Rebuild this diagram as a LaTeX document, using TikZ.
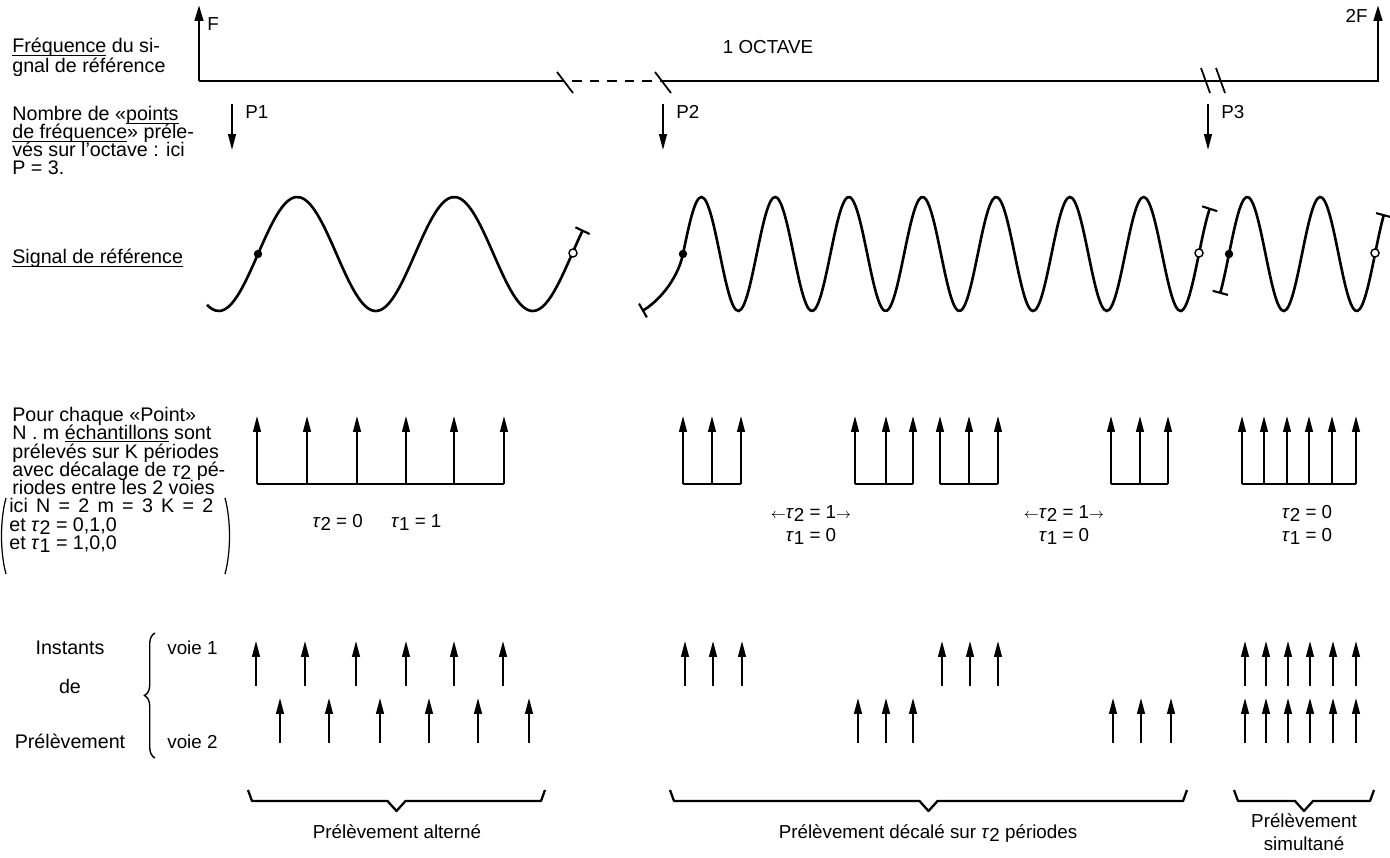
\documentclass[tikz,border=0pt]{standalone}
\usepackage{fontspec}
\setmainfont{Liberation Sans}
\usetikzlibrary{arrows.meta,decorations.pathreplacing,positioning}

\newcommand{\tauv}[1]{\textit{τ}\raisebox{-0.35ex}[\height][0pt]{#1}}
\newcommand{\undl}[1]{$\underline{\smash{\hbox{#1}}}$}
\newcommand{\smarr}[1]{{\footnotesize$#1$}}

\tikzset{
  axisline/.style={line width=1.5pt},
  brk/.style={line width=1pt},
  wave/.style={line width=1.5pt},
  endbar/.tip={Bar[width=9pt,line width=1.2pt]},
  combline/.style={line width=0.9pt},
  sample/.style={line width=1pt, -{Triangle[length=9pt,width=4.4pt]}},
  txt/.style={anchor=base west, inner sep=0pt},
  lefttxt/.style={txt, font=\fontsize{11.2}{12}\selectfont},
  ctxt/.style={anchor=base, inner sep=0pt},
  underbrace/.style={line width=1.3pt, line join=round},
}

\begin{document}
\begin{tikzpicture}[x=0.02cm, y=-0.02cm, font=\fontsize{10.7}{12.6}\selectfont]
  \useasboundingbox (0,0) rectangle (1390,858);

  % Frequency axis F -> 2F
  \coordinate (fA) at (199,81);
  \coordinate (fB) at (1378,81);
  \draw[axisline, -{Triangle[length=9pt,width=4.8pt]}] (fA) -- (199,5);
  \draw[axisline] (fA) -- (564,81);
  \draw[axisline, dash pattern=on 5.5pt off 4.5pt] (572,81) -- (660,81);
  \draw[axisline, -{Triangle[length=9pt,width=4.8pt]}] (662,81) -- (fB) -- (1378,5);
  \draw[brk] (557,72) -- (573,93);
  \draw[brk] (655,72) -- (671,93);
  \draw[brk] (1201,68) -- (1210,93);
  \draw[brk] (1216,68) -- (1225,93);
  \node[txt] (F) at (207,31) {F};
  \node[anchor=base east, inner sep=0pt] (F2) at (1368,23) {2F};
  \node[ctxt] (oct) at (768,54) {1 OCTAVE};

  % Frequency points P1, P2, P3
  \foreach \x/\n in {232/1, 663/2, 1208/3} {
    \draw[sample] (\x,104) -- (\x,150);
    \node[txt] (p\n) at (\x+13,119) {P\n};
  }

  % Left column texts
  \node[lefttxt] (fr1) at (12,53) {\undl{Fréquence} du si-};
  \node[lefttxt] (fr2) at (12,73) {gnal de référence};
  \node[lefttxt] (nb1) at (12,121) {Nombre de «\undl{points}};
  \node[lefttxt] (nb2) at (12,139) {\undl{de fréquence}» préle-};
  \node[lefttxt] (nb3) at (12,157) {vés sur l'octave : ici};
  \node[lefttxt] (nb4) at (12,175) {P = 3.};
  \node[lefttxt] (sig) at (12,264) {\undl{Signal de référence}};
  \node[lefttxt] (pc1) at (12,421) {Pour chaque «Point»};
  \node[lefttxt] (pc2) at (12,439) {N . m \undl{échantillons} sont};
  \node[lefttxt] (pc3) at (12,458) {prélevés sur K périodes};
  \node[lefttxt] (pc4) at (12,476) {avec décalage de \tauv{2} pé-};
  \node[lefttxt] (pc5) at (12,494) {riodes entre les 2 voies};
  \node[lefttxt] (pc6) at (9,512) {\makebox[4.08cm][s]{ici N = 2 m = 3 K = 2}};
  \node[lefttxt] (pc7) at (9,531) {et \tauv{2} = 0,1,0};
  \node[lefttxt] (pc8) at (9,549) {et \tauv{1} = 1,0,0};
  \draw[line width=0.7pt] (6,498) .. controls (0,520) and (0,552) .. (6,574);
  \draw[line width=0.7pt] (225,498) .. controls (231,520) and (231,552) .. (225,574);

  % Reference signals
  \draw[wave, -{endbar}] plot[domain=207:583, samples=90, smooth]
    (\x, {254-57*sin((\x-258)/157*360)});
  \draw[wave, {endbar}-{endbar}] (642,311) .. controls (656,303) and (677,282) .. (683,254)
    -- plot[domain=683:1210, samples=200, smooth] (\x, {254-57*sin((\x-683)/73.7*360)});
  \draw[wave, {endbar}-{endbar}] plot[domain=1220:1384, samples=70, smooth]
    (\x, {254-57*sin((\x-1229)/73*360)});
  \foreach \x in {258, 683, 1229} \fill (\x,254) circle[radius=2.4pt];
  \foreach \x in {573, 1199, 1375}
    \draw[line width=0.8pt, fill=white] (\x,253) circle[radius=2.3pt];

  % Sampling combs
  \draw[combline] (257,484) -- (504,484);
  \foreach \x in {257,307,357,406,454,504} \draw[sample] (\x,484) -- (\x,416);
  \foreach \a/\b/\c in {683/712/741, 855/886/913, 940/969/998, 1111/1140/1168} {
    \draw[combline] (\a,484) -- (\c,484);
    \foreach \x in {\a,\b,\c} \draw[sample] (\x,484) -- (\x,416);
  }
  \draw[combline] (1242,484) -- (1356,484);
  \foreach \x in {1242,1264,1287,1309,1332,1356} \draw[sample] (\x,484) -- (\x,416);

  % Delays
  \node[ctxt] (t0) at (377,527) {\tauv{2} = 0\hspace{1.5em}\tauv{1} = 1};
  \foreach \x/\n in {811/a, 1064/b} {
    \node[ctxt] (t2\n) at (\x,518) {\smarr{\leftarrow}\tauv{2} = 1\smarr{\rightarrow}};
    \node[ctxt] (t1\n) at (\x,541) {\tauv{1} = 0};
  }
  \node[ctxt] (t2c) at (1307,518) {\tauv{2} = 0};
  \node[ctxt] (t1c) at (1307,541) {\tauv{1} = 0};

  % Sampling instants, voie 1 and voie 2
  \foreach \x in {256,305,356,406,454,503,685,713,742,942,970,998,1245,1266,1288,1310,1333,1356}
    \draw[sample] (\x,686) -- (\x,641);
  \foreach \x in {280,329,380,429,478,529,858,886,913,1113,1141,1171,1245,1266,1288,1310,1333,1356}
    \draw[sample] (\x,743) -- (\x,698);
  \node[ctxt, font=\fontsize{11.2}{12}\selectfont] (ins1) at (70,654) {Instants};
  \node[ctxt, font=\fontsize{11.2}{12}\selectfont] (ins2) at (70,693) {de};
  \node[ctxt, font=\fontsize{11.2}{12}\selectfont] (ins3) at (70,748) {Prélèvement};
  \draw[line width=0.8pt, decorate, decoration={brace, amplitude=6pt}] (155,758) -- (155,633);
  \node[txt] (v1) at (167,654) {voie 1};
  \node[txt] (v2) at (167,748) {voie 2};

  % Bottom braces
  \foreach \l/\r in {248/545, 670/1187, 1234/1374}
    \draw[underbrace] (\l,790) -- (\l+4,801) -- ({(\l+\r)/2-9},801) -- ({(\l+\r)/2},811)
      -- ({(\l+\r)/2+9},801) -- (\r-4,801) -- (\r,790);
  \node[ctxt] (alt) at (397,838) {Prélèvement alterné};
  \node[ctxt] (dec) at (928,838) {Prélèvement décalé sur \tauv{2} périodes};
  \node[ctxt] (sim1) at (1304,827) {Prélèvement};
  \node[ctxt] (sim2) at (1304,850) {simultané};
\end{tikzpicture}
\end{document}
